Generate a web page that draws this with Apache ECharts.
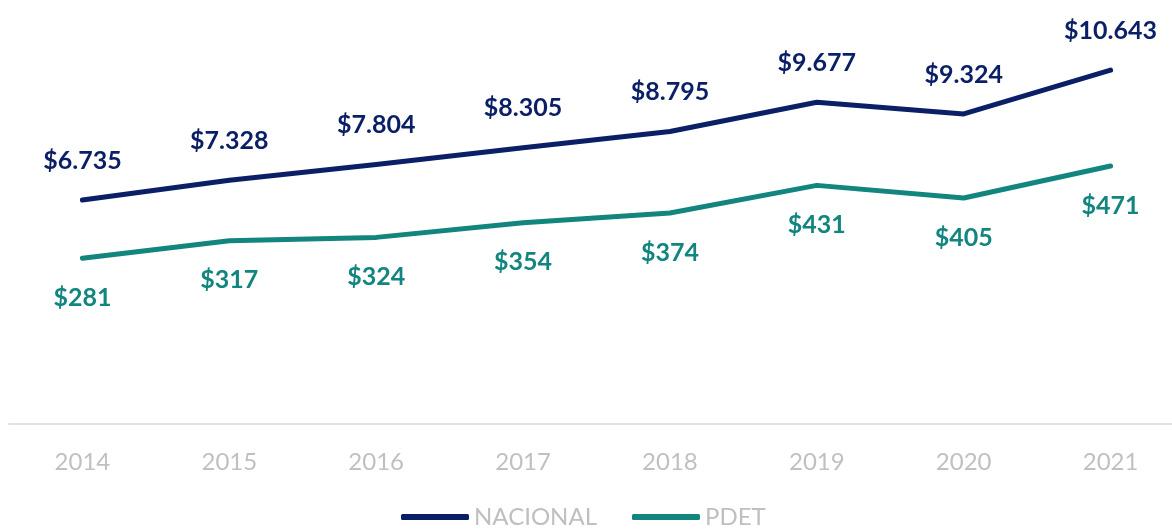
<!DOCTYPE html>
<html>
<head>
<meta charset="utf-8">
<script src="https://cdn.jsdelivr.net/npm/echarts@6/dist/echarts.min.js"></script>
<style>
  html, body { margin: 0; padding: 0; background: #fff; overflow: hidden; }
  /* el gráfico original está recortado a la derecha */
  #chart { width: 1184px; height: 529px; }
</style>
</head>
<body>
<div id="chart"></div>
<script>
var years = ['2014', '2015', '2016', '2017', '2018', '2019', '2020', '2021'];
var nacional = [6735, 7328, 7804, 8305, 8795, 9677, 9324, 10643];
var pdet = [281, 317, 324, 354, 374, 431, 405, 471];

var navy = '#0B1F66';
var teal = '#13857F';

function money(v) {
    // miles con punto
    return '$' + String(v.value).replace(/\B(?=(\d{3})+(?!\d))/g, '.');
}

var chart = echarts.init(document.getElementById('chart'));
chart.setOption({
    animation: false,
    textStyle: { fontFamily: 'Lato' },
    legend: {
        left: 396,
        top: 500,
        icon: 'roundRect',
        itemWidth: 68,
        itemHeight: 6,
        itemGap: 35,
        textStyle: { color: '#BFBFBF', fontSize: 24, lineHeight: 24, fontFamily: 'Lato' },
        data: ['NACIONAL', 'PDET']
    },
    grid: { left: 9, top: 25, right: 0, height: 399 },
    xAxis: {
        type: 'category',
        data: years,
        boundaryGap: true,
        axisLine: { lineStyle: { color: '#D9D9D9', width: 1.5 } },
        axisTick: { show: false },
        axisLabel: { color: '#C0C0C0', fontSize: 24, margin: 26, fontFamily: 'Lato' }
    },
    yAxis: [
        { type: 'value', min: 0, max: 12000, show: false, splitLine: { show: false } },
        { type: 'value', min: -60, max: 761, show: false, splitLine: { show: false } }
    ],
    series: [
        {
            name: 'NACIONAL',
            type: 'line',
            yAxisIndex: 0,
            data: nacional,
            symbol: 'circle',
            symbolSize: 4,
            color: navy,
            lineStyle: { width: 5, color: navy, cap: 'round', join: 'round' },
            label: {
                show: true, position: 'top', distance: 25,
                color: navy, fontSize: 25, fontWeight: 'bold', fontFamily: 'Lato',
                formatter: money
            }
        },
        {
            name: 'PDET',
            type: 'line',
            yAxisIndex: 1,
            data: pdet,
            symbol: 'circle',
            symbolSize: 4,
            color: teal,
            lineStyle: { width: 5, color: teal, cap: 'round', join: 'round' },
            label: {
                show: true, position: 'bottom', distance: 25,
                color: teal, fontSize: 25, fontWeight: 'bold', fontFamily: 'Lato',
                formatter: money
            }
        }
    ]
});
</script>
</body>
</html>
